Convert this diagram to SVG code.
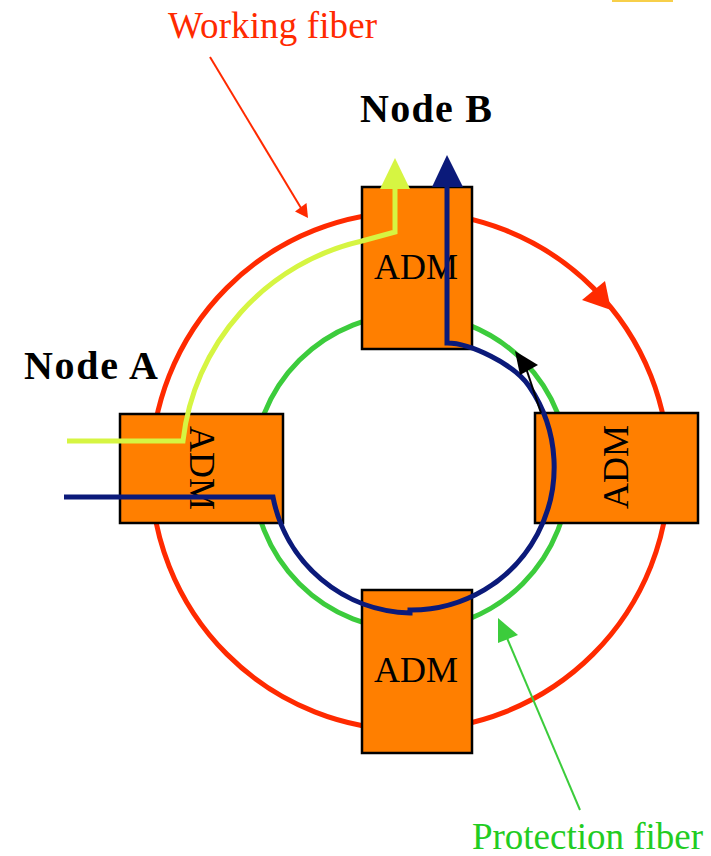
<svg xmlns="http://www.w3.org/2000/svg" width="711" height="856" viewBox="0 0 711 856">
<style>
.ring{fill:none;stroke-width:5}
.box{fill:#FF7F00;stroke:#000;stroke-width:2.5}
.adm{font-family:"Liberation Serif","Times New Roman",serif;font-size:36px;fill:#000;text-anchor:middle}
.lbl{font-family:"Liberation Serif","Times New Roman",serif;font-size:37px}
.node{font-family:"Liberation Serif","Times New Roman",serif;font-size:40px;font-weight:bold;fill:#000}
</style>
<rect width="711" height="856" fill="#fff"/>
<rect x="612" y="0" width="61" height="2" fill="#F7CF4A"/>
<g id="rings">
<circle class="ring" cx="410" cy="471" r="259" stroke="#FF2A00"/>
<circle class="ring" cx="411" cy="472" r="158" stroke="#3CCC3C"/>
<polygon points="582,300 605,281 611,310" fill="#FF2A00"/>
</g>
<g id="node-top"><rect class="box" x="362" y="187" width="110" height="162"/><text class="adm" x="416" y="279">ADM</text></g>
<g id="node-left"><rect class="box" x="120" y="414" width="163" height="109"/><text class="adm" transform="translate(190,468) rotate(90)">ADM</text></g>
<g id="node-right"><rect class="box" x="535" y="413" width="163" height="110"/><text class="adm" transform="translate(628,467) rotate(-90)">ADM</text></g>
<g id="node-bottom"><rect class="box" x="362" y="590" width="110" height="163"/><text class="adm" x="416" y="682">ADM</text></g>
<g id="connectors">
<path d="M67,441 L183,441 A232,232 0 0 1 362,241 L395,232 L395,188" fill="none" stroke="#D6F542" stroke-width="5"/>
<polygon points="380,189 410,189 395,158" fill="#D6F542"/>
<path d="M64,497 L273,497 A143,143 0 0 0 410,613 L410,610 A143,143 0 0 0 529,386 C514,364 470,343 447,343 L447,186" fill="none" stroke="#0B1A7A" stroke-width="5"/>
<polygon points="432,187 463,187 447,155" fill="#0B1A7A"/>
<line x1="541" y1="413" x2="526" y2="368" stroke="#000" stroke-width="2"/>
<polygon points="515,351 520,375 538,365" fill="#000"/>
<line x1="210" y1="57" x2="301" y2="208" stroke="#FF2A00" stroke-width="2"/>
<polygon points="308,218 295,211.5 306.5,203" fill="#FF2A00"/>
<line x1="580" y1="810" x2="507" y2="638" stroke="#3CCC3C" stroke-width="2"/>
<polygon points="498,618 498,643 518,635" fill="#3CCC3C"/>
</g>
<text class="lbl" x="168" y="38" fill="#FF2A00" textLength="209">Working fiber</text>
<text class="lbl" x="472" y="849" fill="#22CC22" textLength="231">Protection fiber</text>
<text class="node" x="360" y="122" textLength="132">Node B</text>
<text class="node" x="24" y="379" textLength="134">Node A</text>
</svg>
